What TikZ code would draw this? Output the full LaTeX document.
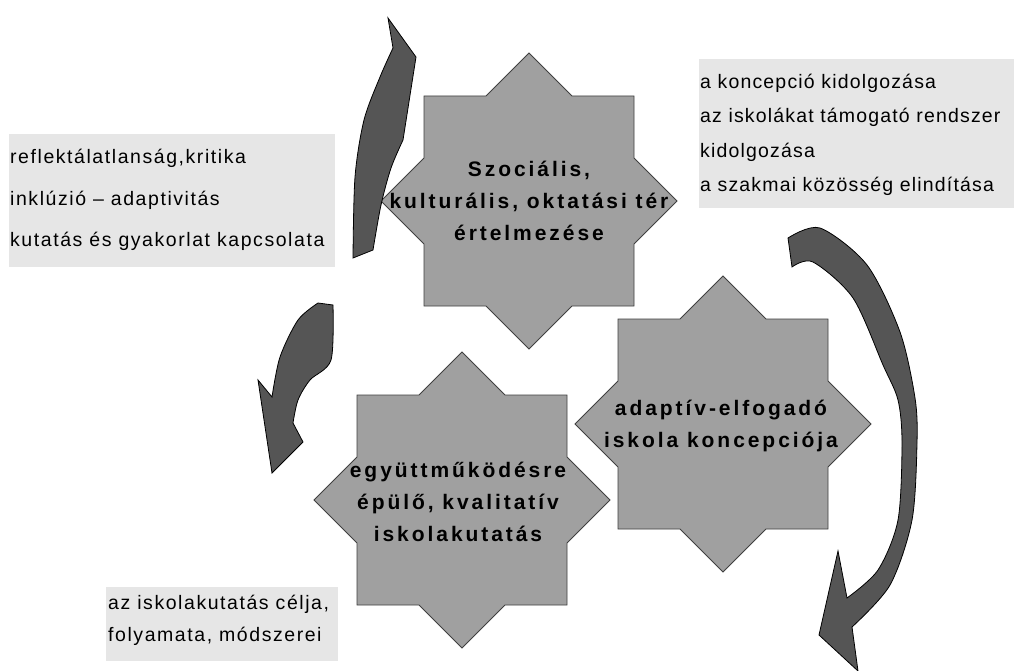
\documentclass[tikz,border=0pt]{standalone}
\usepackage{fontspec}
\setmainfont{Liberation Sans}
\newfontfamily\boxfont[LetterSpace=8]{Liberation Sans}
\newfontfamily\boxfontr[LetterSpace=6]{Liberation Sans}
\newfontfamily\starfont[LetterSpace=14]{Liberation Sans}
\definecolor{stargray}{HTML}{A0A0A0}
\definecolor{stardark}{HTML}{404040}
\definecolor{arrowgray}{HTML}{555555}
\definecolor{boxgray}{HTML}{E6E6E6}
\newcommand\octostar{(0,-148) -- (43,-105) -- (105,-105) -- (105,-43) -- (148,0) -- (105,43) -- (105,105) -- (43,105) -- (0,148) -- (-43,105) -- (-105,105) -- (-105,43) -- (-148,0) -- (-105,-43) -- (-105,-105) -- (-43,-105) -- cycle}
\tikzset{
  starshape/.style={fill=stargray, draw=stardark, line width=0.8pt},
  arrowshape/.style={fill=arrowgray, draw=black, line width=0.8pt, line join=miter},
  infobox/.style={fill=boxgray, draw=none},
  boxtext/.style={anchor=base west, inner sep=0pt, font=\boxfont\fontsize{19.5}{22}\selectfont},
  boxtextr/.style={anchor=base west, inner sep=0pt, font=\boxfontr\fontsize{19.5}{22}\selectfont},
  startext/.style={align=center, inner sep=0pt, font=\starfont\bfseries\fontsize{21}{32}\selectfont}
}
\begin{document}
\begin{tikzpicture}[x=1pt,y=-1pt]
\useasboundingbox (0,0) rectangle (1014,671);
\fill[white] (0,0) rectangle (1014,671);

% text boxes
\fill[infobox] (9,134) rectangle (335,267);
\node[boxtext] (l1) at (10,164) {reflektálatlanság,kritika};
\node[boxtext] (l2) at (10,205) {inklúzió – adaptivitás};
\node[boxtext] (l3) at (10,246) {kutatás és gyakorlat kapcsolata};

\fill[infobox] (699,59) rectangle (1014,208);
\node[boxtextr] (r1) at (700,89) {a koncepció kidolgozása};
\node[boxtextr] (r2) at (700,123) {az iskolákat támogató rendszer};
\node[boxtextr] (r3) at (700,158) {kidolgozása};
\node[boxtextr] (r4) at (700,192) {a szakmai közösség elindítása};

\fill[infobox] (106,587) rectangle (338,661);
\node[boxtext] (b1) at (108,609) {az iskolakutatás célja,};
\node[boxtext] (b2) at (108,641) {folyamata, módszerei};

% stars
\begin{scope}[shift={(529,201)}]
  \draw[starshape] \octostar;
\end{scope}
\begin{scope}[shift={(723,424)}]
  \draw[starshape] \octostar;
\end{scope}
\begin{scope}[shift={(462,500)}]
  \draw[starshape] \octostar;
\end{scope}
\node[startext] (s1) at (529,201) {Szociális,\\kulturális, oktatási tér\\értelmezése};
\node[startext] (s2) at (721,426) {adaptív-elfogadó\\iskola koncepciója};
\node[startext] (s3) at (458,502) {együttműködésre\\épülő, kvalitatív\\iskolakutatás};

% arrow A (up)
\draw[arrowshape] (353,258) -- (373,250)
  -- plot[smooth] coordinates {(373,250) (381,205) (391,168) (403,140)}
  -- (416,57) -- (388,18) -- (393,48)
  -- plot[smooth] coordinates {(393,48) (380,77) (364,120) (355,177) (353,258)}
  -- cycle;

% arrow B (down-left)
\draw[arrowshape] (318,303) -- (333,305)
  -- plot[smooth] coordinates {(333,305) (331,360) (310,380) (298,400) (293,423)}
  -- (303,442) -- (272,473) -- (258,380) -- (272,397)
  -- plot[smooth] coordinates {(272,397) (280,357) (298,320) (318,303)}
  -- cycle;

% arrow C (big right)
\draw[arrowshape] (788,238)
  -- plot[smooth] coordinates {(788,238) (820,228) (867,265) (900,332) (915,398) (917,443) (912,520) (890,585) (852,627)}
  -- (858,671) -- (819,635) -- (838,551) -- (847,598)
  -- plot[smooth] coordinates {(847,598) (878,570) (898,520) (902,443) (898,400) (883,365) (853,298) (813,262) (792,267)}
  -- cycle;
\end{tikzpicture}
\end{document}
